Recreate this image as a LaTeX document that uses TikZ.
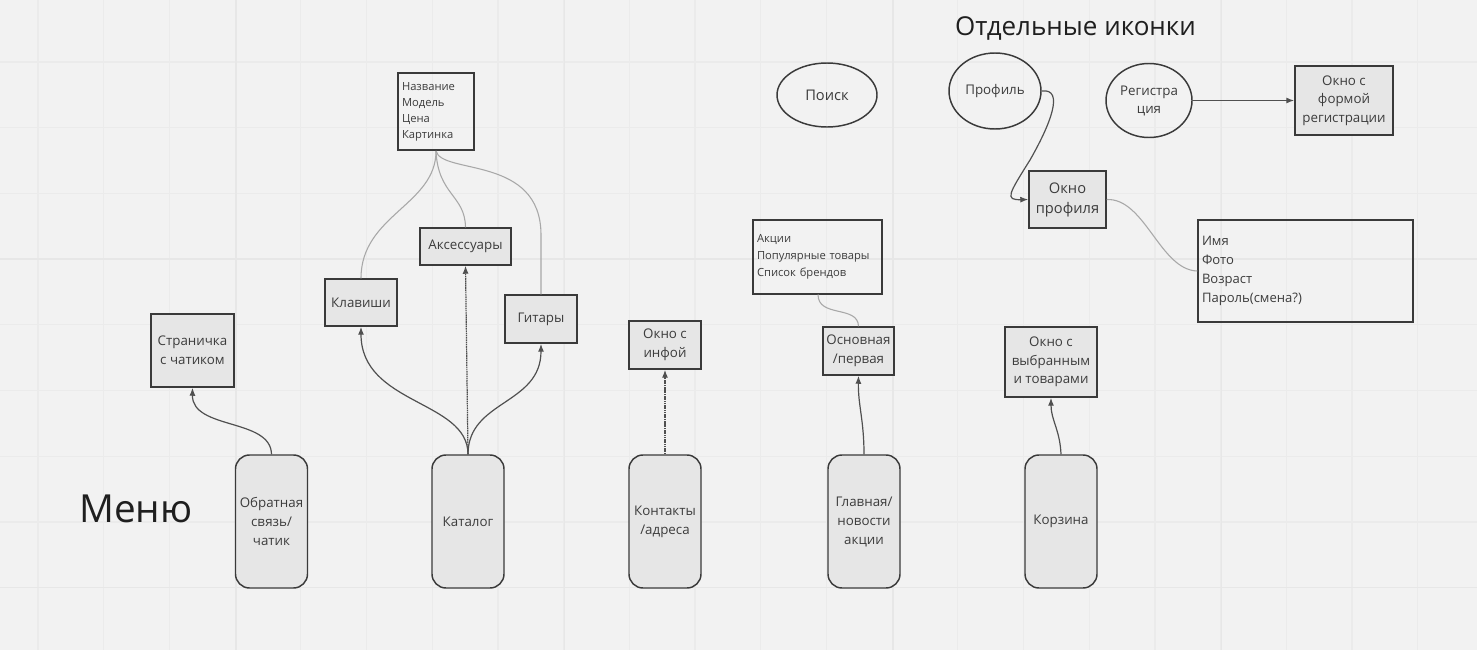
\documentclass[tikz,border=0pt]{standalone}
\usepackage{fontspec}
\setmainfont{Open Sans}
\usetikzlibrary{arrows.meta,shapes.geometric}
\definecolor{bg}{HTML}{F2F2F2}
\definecolor{gridminor}{HTML}{EBEBEB}
\definecolor{gridmajor}{HTML}{E7E7E7}
\definecolor{boxfill}{HTML}{E6E6E6}
\definecolor{boxline}{HTML}{3A3A3A}
\definecolor{txt}{HTML}{3C3C3C}
\definecolor{conn}{HTML}{505050}
\definecolor{soft}{HTML}{A8A8A8}
\tikzset{
  pill/.style={draw=boxline, fill=boxfill, line width=1.1pt, rounded corners=10.5pt,
    minimum width=54pt, minimum height=99.75pt, align=center, text=txt,
    font=\fontsize{10}{14.25}\selectfont, inner sep=1pt},
  gbox/.style={draw=boxline, fill=boxfill, line width=1.1pt, align=center, text=txt,
    font=\fontsize{10}{14}\selectfont, inner sep=1pt},
  wbox/.style={draw=boxline, fill=none, line width=1.1pt, align=left, text=txt, inner xsep=3pt, inner ysep=1pt},
  oval/.style={draw=boxline, ellipse, line width=1.1pt, align=center, text=txt,
    font=\fontsize{10}{13.5}\selectfont, inner sep=0pt},
  arr/.style={draw=conn, line width=0.9pt, -{Latex[length=6pt,width=4.5pt]}},
  darr/.style={draw=conn, line width=0.9pt, dash pattern=on 1.2pt off 0.5pt, -{Latex[length=6pt,width=4.5pt]}},
  sline/.style={draw=soft, line width=0.8pt},
  title/.style={text=black!88, inner sep=0pt}
}
\begin{document}
\begin{tikzpicture}[x=0.75pt,y=-0.75pt]
% background and grid
\fill[bg] (0,0) rectangle (1477,650);
\useasboundingbox (0,0) rectangle (1477,650);
\foreach \i in {0,...,22} {
  \draw[gridminor, line width=0.9pt] ({38+65.7*\i},0) -- ({38+65.7*\i},650);
}
\foreach \i in {0,...,9} {
  \draw[gridminor, line width=0.9pt] (0,{62+65.7*\i}) -- (1477,{62+65.7*\i});
}
\foreach \i in {0,...,4} {
  \draw[gridmajor, line width=1pt] ({236+328.5*\i},0) -- ({236+328.5*\i},650);
}
\foreach \i in {0,1} {
  \draw[gridmajor, line width=1pt] (0,{259+328.5*\i}) -- (1477,{259+328.5*\i});
}

% titles
\node[title, font=\fontsize{19.5}{22}\selectfont] (t1) at (1075.5,28) {Отдельные иконки};
\node[title, font=\fontsize{29}{32}\selectfont] (t2) at (136,509) {Меню};

% menu pills
\node[pill] (p1) at (271.5,521.5) {Обратная\\связь/\\чатик};
\node[pill] (p2) at (468,521.5) {Каталог};
\node[pill] (p3) at (665,521.5) {Контакты\\/адреса};
\node[pill] (p4) at (864,521.5) {Главная/\\новости\\акции};
\node[pill] (p5) at (1061,521.5) {Корзина};

% grey boxes
\node[gbox, minimum width=62.25pt, minimum height=54.75pt] (chat) at (192.5,350.5) {Страничка\\с чатиком};
\node[gbox, minimum width=54pt, minimum height=35.25pt] (klav) at (361,302.5) {Клавиши};
\node[gbox, minimum width=68.25pt, minimum height=27.75pt] (acc) at (465.5,246.5) {Аксессуары};
\node[gbox, minimum width=54pt, minimum height=36pt] (git) at (541,319) {Гитары};
\node[gbox, minimum width=54pt, minimum height=36pt] (info) at (665,345) {Окно с\\инфой};
\node[gbox, minimum width=53.25pt, minimum height=36pt] (osn) at (858.5,351) {Основная\\/первая};
\node[gbox, minimum width=69pt, minimum height=52.5pt] (izbr) at (1051,362) {Окно с\\выбранным\\и товарами};
\node[gbox, minimum width=57.75pt, minimum height=42.75pt, font=\fontsize{11}{15}\selectfont] (okno) at (1067.5,199.5) {Окно\\профиля};
\node[gbox, minimum width=73.5pt, minimum height=51.75pt] (regw) at (1344,100.5) {Окно с\\формой\\регистрации};

% white list boxes
\node[wbox, text width=51pt, minimum height=57.75pt, font=\fontsize{8.4}{12}\selectfont] (nazv) at (436,111.5) {Название\\Модель\\Цена\\Картинка};
\node[wbox, text width=90.75pt, minimum height=55.5pt, font=\fontsize{8.4}{12.75}\selectfont] (akc) at (817.5,257) {Акции\\Популярные товары\\Список брендов};
\node[wbox, text width=155.25pt, minimum height=76.5pt, font=\fontsize{9.8}{14.25}\selectfont] (imya) at (1305.5,271) {Имя\\Фото\\Возраст\\Пароль(смена?)};

% ovals
\node[oval, minimum width=75pt, minimum height=48pt, font=\fontsize{11}{14}\selectfont] (poisk) at (827,95) {Поиск};
\node[oval, minimum width=69pt, minimum height=57pt] (prof) at (995,91) {Профиль};
\node[oval, minimum width=64.5pt, minimum height=55.5pt] (reg) at (1149,100.5) {Регистра\\ция};

% soft connectors
\coordinate (nb) at (436,151);
\draw[sline] (nb) .. controls (436,205) and (361,215) .. (klav.north);
\draw[sline] (nb) .. controls (438,195) and (465,195) .. (acc.north);
\draw[sline] (nb) .. controls (442,175) and (541,155) .. (541,235) -- (git.north);
\coordinate (ab) at (818,294.5);
\draw[sline] (ab) .. controls (818,318) and (858,305) .. (osn.north);
\draw[sline] (okno.east) .. controls (1145,198) and (1160,270) .. (imya.west);

% arrows
\draw[arr] (p1.north) .. controls (271,418) and (192,430) .. (chat.south);
\draw[arr] (p2.north) .. controls (468,400) and (361,405) .. (klav.south);
\draw[darr] (p2.north) -- (acc.south);
\draw[arr] (p2.north) .. controls (468,400) and (541,405) .. (git.south);
\draw[darr] (p3.north) -- (info.south);
\draw[arr] (p4.north) .. controls (864,420) and (858,405) .. (osn.south);
\draw[arr] (p5.north) .. controls (1060,430) and (1051,420) .. (izbr.south);
\draw[arr] (prof.east) .. controls (1065,88) and (1050,125) .. (1030,160) .. controls (1008,195) and (1005,200) .. (okno.west);
\draw[arr] (reg.east) -- (regw.west);
\end{tikzpicture}
\end{document}
